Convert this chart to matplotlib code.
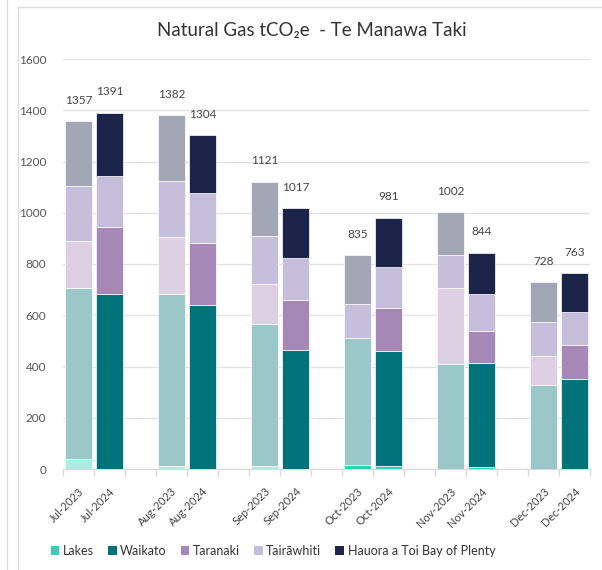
import matplotlib
matplotlib.use("Agg")
import matplotlib.pyplot as plt
from matplotlib.patches import Patch
from matplotlib.lines import Line2D
import numpy as np

plt.rcParams['font.family'] = ['Lato', 'DejaVu Sans']

months = ['Jul', 'Aug', 'Sep', 'Oct', 'Nov', 'Dec']
years = ['2023', '2024']
regions = ['Lakes', 'Waikato', 'Taranaki', 'Tairāwhiti', 'Hauora a Toi Bay of Plenty']

# tCO2e per region, per month
lakes_2023 = [38, 12, 12, 15, 0, 0]
lakes_2024 = [0, 0, 0, 13, 9, 0]
waikato_2023 = [669, 669, 552, 497, 411, 329]
waikato_2024 = [681, 640, 464, 448, 404, 350]
taranaki_2023 = [182, 223, 158, 0, 294, 112]
taranaki_2024 = [263, 243, 194, 166, 125, 134]
tairawhiti_2023 = [216, 220, 189, 133, 130, 132]
tairawhiti_2024 = [200, 195, 166, 163, 143, 127]
hauora_2023 = [252, 258, 210, 190, 167, 155]
hauora_2024 = [247, 226, 193, 191, 163, 152]

series_2023 = [lakes_2023, waikato_2023, taranaki_2023, tairawhiti_2023, hauora_2023]
series_2024 = [lakes_2024, waikato_2024, taranaki_2024, tairawhiti_2024, hauora_2024]

colors = ['#2ed3b7', '#00737a', '#a588b6', '#c4bedb', '#1c2449']
colors_prev = ['#abede2', '#9cc7c9', '#dcd0e2', '#c5bfdc', '#a3a6b4']

fig = plt.figure(figsize=(6.02, 5.70), dpi=100)
ax = fig.add_axes([63 / 602, 1 - 469 / 570, 527 / 602, 410 / 570])

pos_2023 = np.arange(len(months)) * 3
pos_2024 = pos_2023 + 1
width = 0.84

def stack(ax, pos, series, cols, year):
    bottom = np.zeros(len(months))
    for r, (vals, c) in enumerate(zip(series, cols)):
        vals = np.array(vals, dtype=float)
        bar_cols = [c] * len(months)
        # October 2023 Lakes is shown at full strength
        if year == '2023' and r == 0:
            bar_cols[3] = colors[0]
        ax.bar(pos, vals, width, bottom=bottom, color=bar_cols,
               edgecolor='white', linewidth=0.5, zorder=3)
        bottom += vals
    return bottom

tot_2023 = stack(ax, pos_2023, series_2023, colors_prev, '2023')
tot_2024 = stack(ax, pos_2024, series_2024, colors, '2024')

for p, t in list(zip(pos_2023, tot_2023)) + list(zip(pos_2024, tot_2024)):
    ax.annotate(f'{int(round(t))}', (p, t), xytext=(0, 11), textcoords='offset points',
                ha='center', va='bottom', fontsize=8.5, color='#444444')

ax.set_xlim(-0.5, 16.5)
ax.set_ylim(0, 1600)
ax.set_yticks(np.arange(0, 1601, 200))
ax.tick_params(axis='y', length=0, pad=12, labelsize=8.5, labelcolor='#555555')
ax.grid(axis='y', color='#e3e3e3', linewidth=1, zorder=0)
ax.set_axisbelow(True)

xpos = list(pos_2023) + list(pos_2024)
xlab = [f'{m}-{years[0]}' for m in months] + [f'{m}-{years[1]}' for m in months]
ax.set_xticks(xpos)
ax.set_xticklabels(xlab, rotation=45, ha='right', va='top', rotation_mode='anchor',
                   fontsize=8, color='#444444')
ax.tick_params(axis='x', which='major', length=0, pad=12)
ax.set_xticks(np.arange(-0.5, 16.6, 1), minor=True)
ax.tick_params(axis='x', which='minor', length=5, color='#d9d9d9', width=1)

for s in ['top', 'right', 'left']:
    ax.spines[s].set_visible(False)
ax.spines['bottom'].set_color('#d9d9d9')

fig.text(312 / 602, 1 - 31 / 570, 'Natural Gas tCO₂e  - Te Manawa Taki',
         ha='center', va='center', fontsize=13.5, color='#333333')

handles = [Patch(facecolor=c, edgecolor='none') for c in colors]
fig.legend(handles, regions, loc='center', bbox_to_anchor=(273 / 602, 1 - 551 / 570),
           ncol=5, frameon=False, fontsize=9, handlelength=0.7, handleheight=0.7,
           handletextpad=0.3, columnspacing=1.1, labelcolor='#333333')

# card borders
def fig_line(x0, y0, x1, y1):
    fig.add_artist(Line2D([x0 / 602, x1 / 602], [1 - y0 / 570, 1 - y1 / 570],
                          transform=fig.transFigure, color='#dcdcdc', linewidth=1))

fig_line(7, 0, 7, 570)
fig_line(18, 7, 18, 570)
fig_line(18, 7, 602, 7)

fig.savefig('out.png', dpi=100)
